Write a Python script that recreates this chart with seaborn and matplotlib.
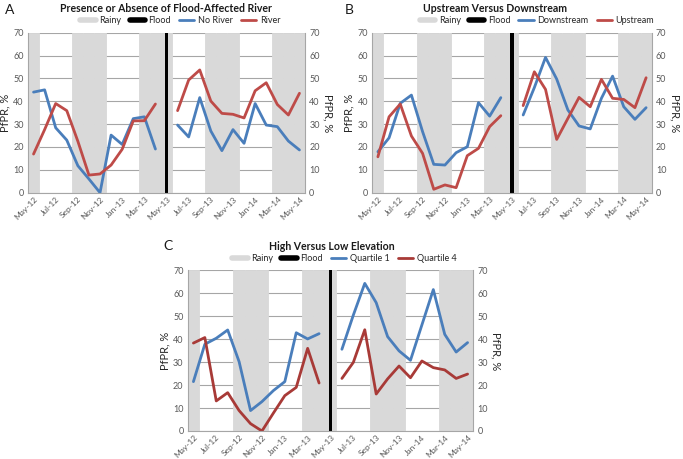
import numpy as np
import pandas as pd
import seaborn as sns
import matplotlib.pyplot as plt
from matplotlib.lines import Line2D

sns.set_style("white")
plt.rcParams['font.family'] = ['Lato', 'DejaVu Sans']

# monthly categories, May-12 .. May-14
months = ['May-12', 'Jun-12', 'Jul-12', 'Aug-12', 'Sep-12', 'Oct-12', 'Nov-12',
          'Dec-12', 'Jan-13', 'Feb-13', 'Mar-13', 'Apr-13', 'May-13', 'Jun-13',
          'Jul-13', 'Aug-13', 'Sep-13', 'Oct-13', 'Nov-13', 'Dec-13', 'Jan-14',
          'Feb-14', 'Mar-14', 'Apr-14', 'May-14']
rainy = ['May-12', 'Sep-12', 'Oct-12', 'Nov-12', 'Mar-13', 'Apr-13', 'May-13',
         'Sep-13', 'Oct-13', 'Nov-13', 'Mar-14', 'Apr-14', 'May-14']
flood = ['May-13']

# PfPR, % (None = flood month, no survey)
no_river = [44, 45, 28.4, 23, 11.8, 6, 0, 25.2, 21.1, 32.4, 33.2, 19.1, None,
            29.6, 24.4, 41.6, 27, 18.4, 27.6, 21.6, 39, 29.6, 28.9, 22.6, 18.7]
river = [16.9, 27.6, 39, 35.9, 22.5, 7.7, 8.2, 12.1, 19, 31.4, 31.5, 38.8, None,
         35.9, 49.3, 53.7, 40.1, 34.7, 34.3, 32.7, 44.6, 48.1, 38.6, 34, 43.5]
downstream = [17.9, 24, 39.1, 42.7, 26.7, 12.4, 12.1, 17.5, 20.1, 39.4, 33.5, 41.6, None,
              34, 46, 59.2, 49.7, 36.2, 29.2, 27.9, 41.3, 51, 37.6, 32.1, 37.2]
upstream = [15.7, 33.2, 38.8, 24.8, 17.2, 1.5, 3.4, 2.2, 16.2, 19.4, 28.9, 33.7, None,
            38.1, 52.9, 45.2, 23.3, 32.5, 41.7, 37.6, 49.6, 41.3, 40.8, 37.2, 50.3]
quartile1 = [21.5, 37.8, 40.4, 44, 30.2, 8.9, 12.8, 17.6, 21.5, 42.8, 40.1, 42.4, None,
             35.6, 50.5, 64.3, 55.9, 41.1, 34.9, 30.8, 46.2, 61.6, 42.1, 34.4, 38.5]
quartile4 = [38.3, 40.7, 13.1, 16.7, 8.9, 3.2, 0, 7.8, 15.4, 19, 36, 20.9, None,
             22.9, 29.9, 44.1, 16.1, 22.7, 28.3, 23.2, 30.5, 27.6, 26.6, 22.9, 24.8]

BLUE = '#4a7ebb'
RED = '#be4b48'
GRAY = '#d9d9d9'
TXT = '#595959'

# letter, title, series, axes box (px), letter pos, title dx, legend dx
panels = [
    ('A', 'Presence or Absence of Flood-Affected River',
     [('No River', no_river, BLUE), ('River', river, RED)],
     [28, 32.7, 305, 192.7], (5, 4), 0, 14),
    ('B', 'Upstream Versus Downstream',
     [('Downstream', downstream, BLUE), ('Upstream', upstream, RED)],
     [372.3, 32.7, 651.7, 192.7], (345, 4), -17, 25),
    ('C', 'High Versus Low Elevation',
     [('Quartile 1', quartile1, BLUE), ('Quartile 4', quartile4, '#a83a37')],
     [187.7, 270.3, 473.3, 431], (163, 240), 1, 14),
]

W, H = 683, 459
fig = plt.figure(figsize=(W / 100, H / 100), dpi=100)

for letter, title, series, box, lpos, tdx, ldx in panels:
    x0, y0, x1, y1 = box
    ax = fig.add_axes([x0 / W, 1 - y1 / H, (x1 - x0) / W, (y1 - y0) / H])
    idx = np.arange(len(months))

    # rainy season columns and flood marker
    rain_idx = [months.index(m) for m in rainy]
    ax.bar(rain_idx, [70] * len(rain_idx), width=1.0, color=GRAY,
           edgecolor=GRAY, linewidth=0.6, zorder=2)
    for m in flood:
        ax.bar(months.index(m), 70, width=0.32, color='black', linewidth=0, zorder=3)

    rows = []
    for name, vals, col in series:
        for i, v in enumerate(vals):
            if v is None:
                continue
            rows.append({'x': i, 'y': v, 'series': name,
                         'period': 'pre' if i < months.index(flood[0]) else 'post'})
    df = pd.DataFrame(rows)
    pal = {name: col for name, vals, col in series}
    sns.lineplot(data=df, x='x', y='y', hue='series', units='period',
                 estimator=None, palette=pal, linewidth=2.0, legend=False,
                 ax=ax, zorder=4)

    ax.set_xlim(-0.5, len(months) - 0.5)
    ax.set_ylim(0, 70)
    ax.set_yticks(range(0, 71, 10))
    ax.yaxis.grid(True, color='#a6a6a6', linewidth=0.8, zorder=1)
    ax.set_axisbelow(True)
    ax.set_xticks(idx[::2])
    ax.set_xticklabels(months[::2], rotation=45, ha='right', rotation_mode='anchor')
    ax.tick_params(axis='x', labelsize=6, colors=TXT, length=0, pad=2)
    ax.tick_params(axis='y', labelsize=6.5, colors=TXT, length=0, pad=3)
    ax.set_xlabel('')
    ax.set_ylabel('PfPR, %', fontsize=8, color='#262626', labelpad=2)
    for s in ['top', 'right']:
        ax.spines[s].set_visible(False)
    for s in ['left', 'bottom']:
        ax.spines[s].set_color('#a6a6a6')
        ax.spines[s].set_linewidth(0.8)
        ax.spines[s].set_zorder(5)

    ax2 = ax.twinx()
    ax2.set_ylim(0, 70)
    ax2.set_yticks(range(0, 71, 10))
    ax2.tick_params(axis='y', labelsize=6.5, colors=TXT, length=0, pad=3)
    ax2.set_ylabel('PfPR, %', fontsize=8, color='#262626', rotation=270, labelpad=10)
    for s in ['top', 'left', 'bottom']:
        ax2.spines[s].set_visible(False)
    ax2.spines['right'].set_color('#a6a6a6')
    ax2.spines['right'].set_linewidth(0.8)

    hgt = y1 - y0
    wid = x1 - x0
    ax.text(0.5 + tdx / wid, 1 + 24 / hgt, title, transform=ax.transAxes,
            ha='center', va='center', fontsize=7.6, fontweight='bold',
            color='#1a1a1a')
    handles = [Line2D([], [], color=GRAY, lw=4),
               Line2D([], [], color='black', lw=4)] + \
              [Line2D([], [], color=col, lw=2) for name, vals, col in series]
    labels = ['Rainy', 'Flood'] + [name for name, vals, col in series]
    ax.legend(handles, labels, loc='center',
              bbox_to_anchor=(0.5 + ldx / wid, 1 + 12 / hgt),
              ncol=4, frameon=False, fontsize=6.5, handlelength=1.7,
              handletextpad=0.4, columnspacing=0.9, labelcolor='#262626')

    fig.text(lpos[0] / W, 1 - lpos[1] / H, letter, ha='left', va='top',
             fontsize=10, color='#1a1a1a')

fig.savefig('out.png', dpi=100)
